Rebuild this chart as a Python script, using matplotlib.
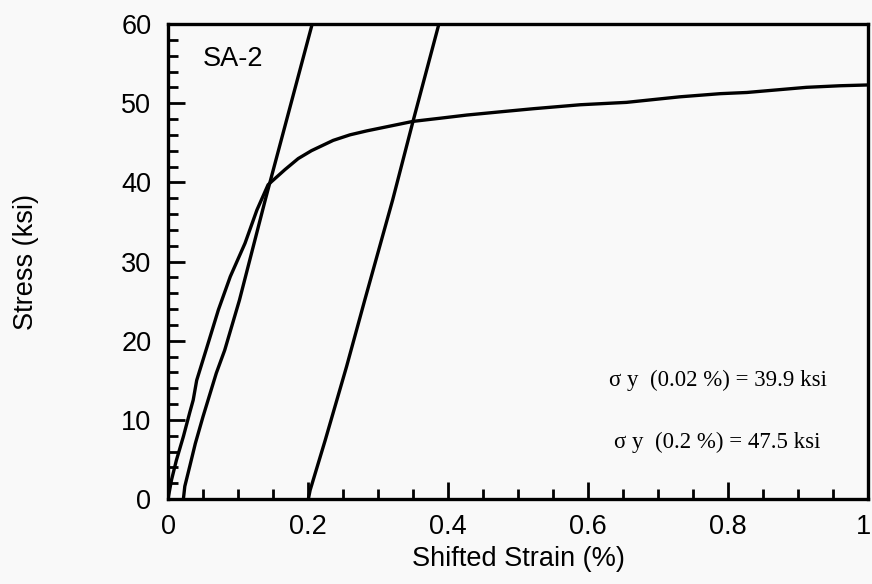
import matplotlib
matplotlib.use("Agg")
import matplotlib.pyplot as plt
from matplotlib.ticker import MultipleLocator
from matplotlib.transforms import ScaledTranslation

# Stress-strain curve (shifted strain %, stress ksi)
curve_x = [0.0, 0.005, 0.012, 0.022, 0.031, 0.036, 0.041, 0.055, 0.072, 0.089,
           0.110, 0.127, 0.143, 0.167, 0.186, 0.205, 0.236, 0.260, 0.284,
           0.317, 0.350, 0.389, 0.427, 0.474, 0.522, 0.589, 0.655, 0.731, 0.789,
           0.827, 0.912, 0.960, 1.000]
curve_y = [0.0, 2.4, 4.9, 7.9, 10.9, 12.5, 15.0, 19.0, 23.9, 28.1,
           32.3, 36.5, 39.7, 41.6, 43.0, 44.0, 45.3, 46.0, 46.5,
           47.1, 47.7, 48.1, 48.5, 48.9, 49.3, 49.8, 50.1, 50.8, 51.2,
           51.35, 52.0, 52.2, 52.3]

# 0.02 % offset line
off002_x = [0.022, 0.024, 0.031, 0.039, 0.050, 0.069, 0.081, 0.102, 0.139, 0.206]
off002_y = [0.0, 1.6, 4.1, 7.0, 10.4, 15.9, 18.8, 25.1, 37.8, 60.0]

# 0.2 % offset line
off02_x = [0.2005, 0.203, 0.2245, 0.255, 0.281, 0.321, 0.350, 0.387]
off02_y = [0.0, 1.1, 7.4, 16.7, 25.1, 37.8, 47.7, 60.0]

x_ticks = [0, 0.2, 0.4, 0.6, 0.8, 1]
x_tick_labels = ["0", "0.2", "0.4", "0.6", "0.8", "1"]
y_ticks = [0, 10, 20, 30, 40, 50, 60]

label_specimen = "SA-2"
label_yield1 = "σ y  (0.02 %) = 39.9 ksi"
label_yield2 = "σ y  (0.2 %) = 47.5 ksi"

bg = "#f9f9f9"
fig = plt.figure(figsize=(8.72, 5.84), dpi=100, facecolor=bg)
ax = fig.add_axes([168/872, 1-499/584, 700/872, 475/584], facecolor=bg)

lw = 2.4
for xs, ys in [(curve_x, curve_y), (off002_x, off002_y), (off02_x, off02_y)]:
    ax.plot(xs, ys, color="black", lw=lw, solid_joinstyle="round")

ax.set_xlim(0, 1)
ax.set_ylim(0, 60)
ax.set_xticks(x_ticks)
ax.set_xticklabels(x_tick_labels)
ax.set_yticks(y_ticks)
ax.xaxis.set_minor_locator(MultipleLocator(0.05))
ax.yaxis.set_minor_locator(MultipleLocator(2))

sans = ["Liberation Sans", "DejaVu Sans"]
serif = ["Liberation Serif", "DejaVu Serif"]

fs = 19.5
ax.tick_params(axis="both", which="major", direction="in", length=12, width=2,
               labelsize=fs, top=False, right=False)
ax.tick_params(axis="both", which="minor", direction="in", length=7, width=2,
               top=False, right=False)
ax.tick_params(axis="x", which="major", pad=11)
ax.tick_params(axis="y", which="major", pad=12)
for lab in ax.get_xticklabels() + ax.get_yticklabels():
    lab.set_fontfamily(sans)
# keep the last x tick label inside the figure
last = ax.get_xticklabels()[-1]
last.set_transform(last.get_transform() + ScaledTranslation(-4/100, 0, fig.dpi_scale_trans))

for s in ax.spines.values():
    s.set_linewidth(2.4)

ax.set_xlabel("Shifted Strain (%)", fontsize=fs, family=sans, labelpad=4)
ax.set_ylabel("Stress (ksi)", fontsize=fs, family=sans, labelpad=0)
ax.yaxis.set_label_coords(-129/700, 0.5)

ax.text(0.049, 55.6, label_specimen, fontsize=fs, family=sans,
        ha="left", va="center")
ax.text(0.785, 15.0, label_yield1, fontsize=16.5, family=serif,
        ha="center", va="center")
ax.text(0.785, 7.2, label_yield2, fontsize=16.5, family=serif,
        ha="center", va="center")

fig.savefig("out.png", dpi=100, facecolor=bg)
